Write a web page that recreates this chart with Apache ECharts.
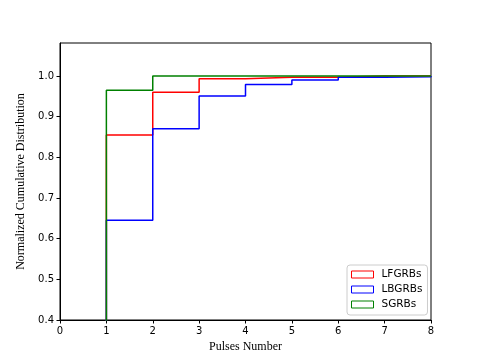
<!DOCTYPE html>
<html>
<head>
<meta charset="utf-8">
<script src="https://cdn.jsdelivr.net/npm/echarts@6/dist/echarts.min.js"></script>
<style>
  html, body { margin: 0; padding: 0; background: #fff; }
  #chart { width: 479px; height: 359px; }
</style>
</head>
<body>
<div id="chart"></div>
<script>
// pulse counts and cumulative fractions (step, held until next count)
const pulses = [0, 1, 2, 3, 4, 5, 6, 7, 8];
const lfgrbs = [0, 0.855, 0.96, 0.993, 0.997, 0.997, 1.0, 1.0, 1.0];
const lbgrbs = [0, 0.645, 0.87, 0.951, 0.979, 0.99, 0.997, 0.998, 1.0];
const sgrbs = [0, 0.965, 1.0, 1.0, 1.0, 1.0, 1.0, 1.0, 1.0];
const yTicks = [0.4, 0.5, 0.6, 0.7, 0.8, 0.9, 1.0];

const serif = "Liberation Serif";
const sans = "DejaVu Sans";

function pairs(vals) {
  return pulses.map((x, i) => [x, vals[i]]);
}

function stepSeries(name, vals, color) {
  return {
    name: name,
    type: "line",
    step: "end",
    showSymbol: false,
    symbol: "none",
    lineStyle: { color: color, width: 1.5 },
    itemStyle: { color: color },
    data: pairs(vals),
  };
}

const chart = echarts.init(document.getElementById("chart"));
chart.setOption({
  animation: false,
  backgroundColor: "#fff",
  grid: {
    left: 60, right: 48, top: 43, bottom: 39,
    show: true, borderColor: "#000", borderWidth: 1,
  },
  legend: {
    orient: "vertical",
    left: 347, top: 265,
    backgroundColor: "#fff",
    borderColor: "#ccc", borderWidth: 1, borderRadius: 3,
    padding: [4, 5, 5, 4],
    itemWidth: 22, itemHeight: 7, itemGap: 4,
    textStyle: { fontFamily: sans, fontSize: 10.5, color: "#000", padding: [0, 0, 0, 3] },
    data: [
      { name: "LFGRBs", icon: "rect", itemStyle: { color: "transparent", borderColor: "#ff0000", borderWidth: 1 } },
      { name: "LBGRBs", icon: "rect", itemStyle: { color: "transparent", borderColor: "#0000ff", borderWidth: 1 } },
      { name: "SGRBs", icon: "rect", itemStyle: { color: "transparent", borderColor: "#008000", borderWidth: 1 } },
    ],
  },
  xAxis: {
    type: "value",
    min: 0, max: 8, interval: 1,
    name: "Pulses Number",
    nameLocation: "middle",
    nameGap: 20,
    nameTextStyle: { fontFamily: serif, fontSize: 12, color: "#000" },
    axisLine: { lineStyle: { color: "#000", width: 1 } },
    axisTick: { inside: false, length: 3.5, lineStyle: { color: "#000" } },
    axisLabel: { fontFamily: sans, fontSize: 10, color: "#000", margin: 6 },
    splitLine: { show: false },
  },
  yAxis: {
    type: "value",
    min: 0.4, max: 1.081,
    name: "Normalized Cumulative Distribution",
    nameLocation: "middle",
    nameGap: 33,
    nameTextStyle: { fontFamily: serif, fontSize: 12, color: "#000" },
    axisLine: { lineStyle: { color: "#000", width: 1 } },
    axisTick: { inside: false, length: 3.5, lineStyle: { color: "#000" }, customValues: yTicks },
    axisLabel: {
      fontFamily: sans, fontSize: 10, color: "#000", margin: 6,
      customValues: yTicks,
      formatter: (v) => v.toFixed(1),
    },
    splitLine: { show: false },
  },
  series: [
    stepSeries("LFGRBs", lfgrbs, "#ff0000"),
    stepSeries("LBGRBs", lbgrbs, "#0000ff"),
    stepSeries("SGRBs", sgrbs, "#008000"),
  ],
});
</script>
</body>
</html>
